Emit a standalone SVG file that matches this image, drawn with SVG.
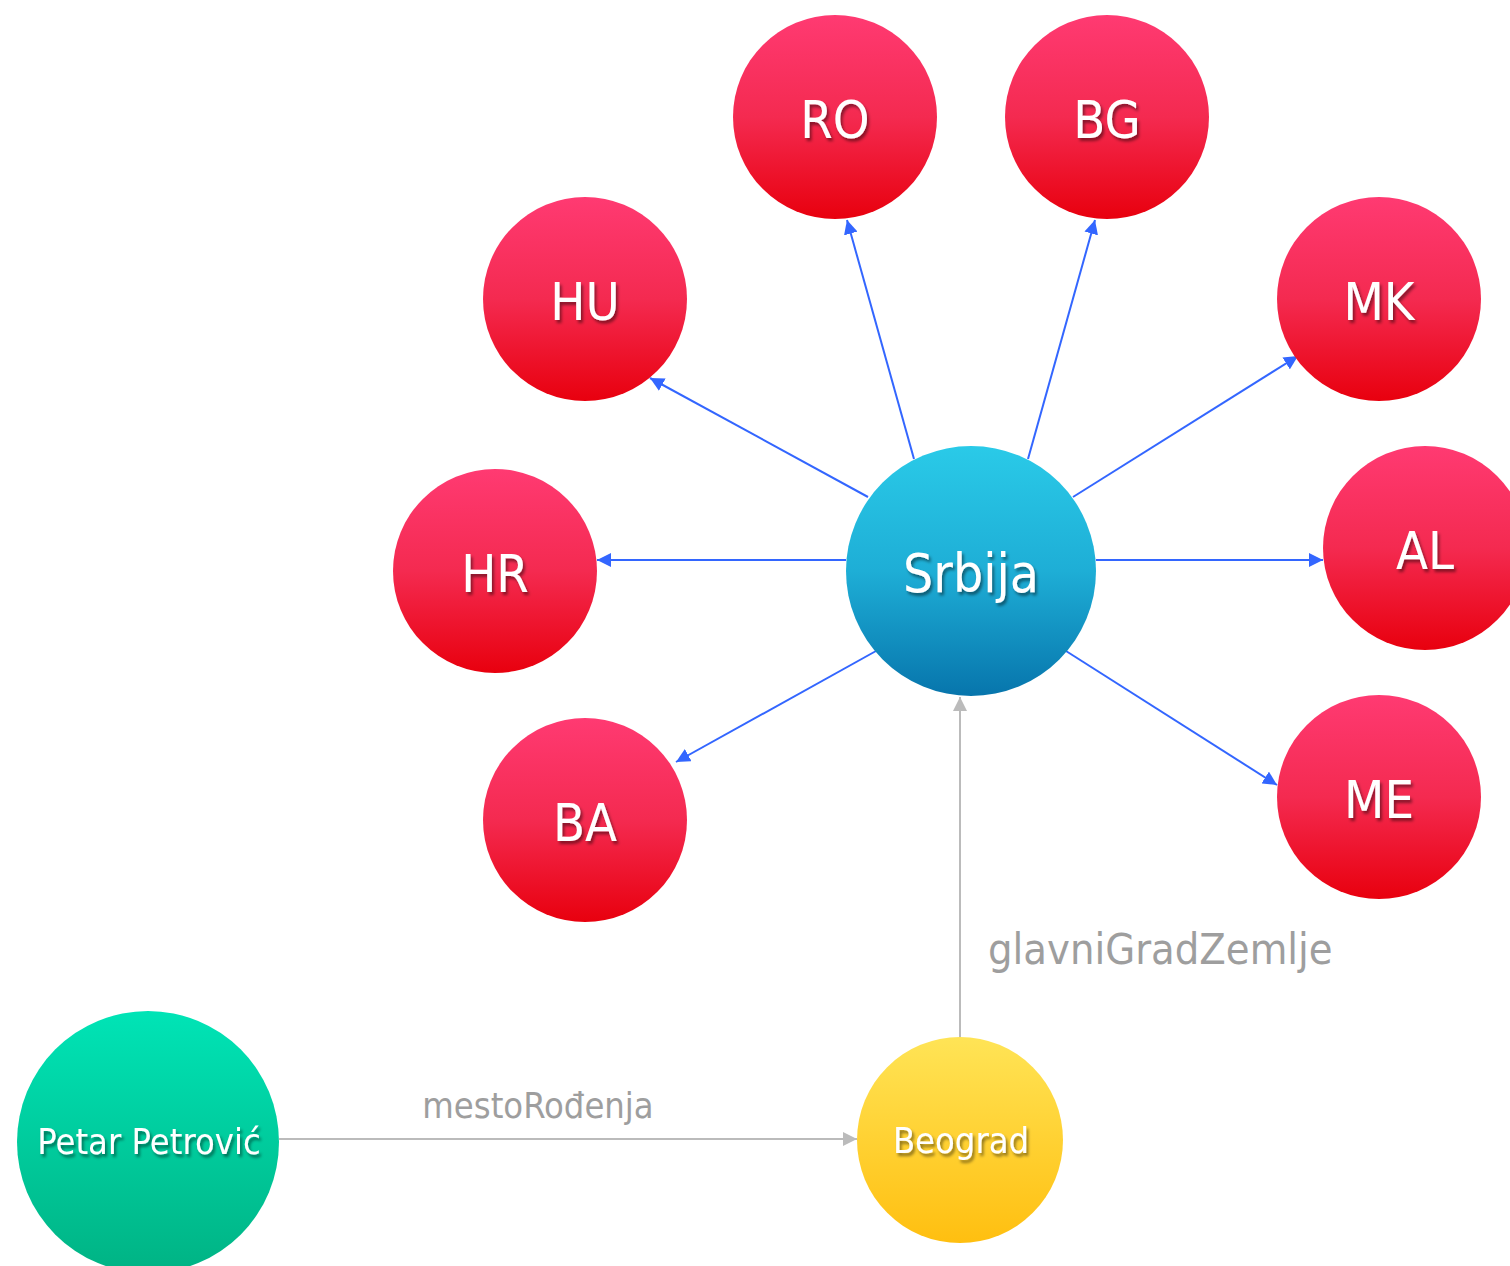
<svg xmlns="http://www.w3.org/2000/svg" width="1510" height="1266" viewBox="0 0 1510 1266">
<style>
.lbl{font-family:"DejaVu Sans Condensed","DejaVu Sans",sans-serif;fill:#ffffff;text-anchor:middle;filter:url(#sh)}
.big{font-size:52px}
.mid{font-size:53px}
.small{font-size:36px}
.edge{stroke:#3366ff;stroke-width:2;fill:none;marker-end:url(#ab)}
.gedge{stroke:#bbbbbb;stroke-width:2;fill:none;marker-end:url(#ag)}
.elbl{font-family:"DejaVu Sans Condensed","DejaVu Sans",sans-serif;fill:#9e9e9e}
</style>
<defs>
<linearGradient id="gr" x1="0" y1="0" x2="0" y2="1"><stop offset="0" stop-color="#ff3a72"/><stop offset="0.5" stop-color="#f42a50"/><stop offset="1" stop-color="#e8000e"/></linearGradient>
<linearGradient id="gb" x1="0" y1="0" x2="0" y2="1"><stop offset="0" stop-color="#2acae8"/><stop offset="0.5" stop-color="#1eaed6"/><stop offset="1" stop-color="#0775ac"/></linearGradient>
<linearGradient id="gg" x1="0" y1="0" x2="0" y2="1"><stop offset="0" stop-color="#00e4b6"/><stop offset="1" stop-color="#00b384"/></linearGradient>
<linearGradient id="gy" x1="0" y1="0" x2="0" y2="1"><stop offset="0" stop-color="#ffe456"/><stop offset="1" stop-color="#ffbf10"/></linearGradient>
<filter id="sh" x="-20%" y="-20%" width="140%" height="160%"><feDropShadow dx="2" dy="3" stdDeviation="1.5" flood-color="#000" flood-opacity="0.45"/></filter>
<marker id="ab" viewBox="0 0 10 10" refX="10" refY="5" markerWidth="14" markerHeight="14" markerUnits="userSpaceOnUse" orient="auto"><path d="M0,0 L10,5 L0,10 z" fill="#3366ff"/></marker>
<marker id="ag" viewBox="0 0 10 10" refX="10" refY="5" markerWidth="14" markerHeight="14" markerUnits="userSpaceOnUse" orient="auto"><path d="M0,0 L10,5 L0,10 z" fill="#bbbbbb"/></marker>
</defs>
<g id="connectors">
<line class="edge" x1="846" y1="560" x2="597" y2="560"/>
<line class="edge" x1="1096" y1="560" x2="1323" y2="560"/>
<line class="edge" x1="868" y1="497" x2="650" y2="378"/>
<line class="edge" x1="914" y1="459" x2="847" y2="220"/>
<line class="edge" x1="1028" y1="459" x2="1095" y2="220"/>
<line class="edge" x1="1073" y1="497" x2="1298" y2="356"/>
<line class="edge" x1="876" y1="651" x2="676" y2="762"/>
<line class="edge" x1="1066" y1="651" x2="1277" y2="785"/>
<line class="gedge" x1="960" y1="1037" x2="960" y2="697"/>
<line class="gedge" x1="279" y1="1139" x2="857" y2="1139"/>
<text class="elbl" x="988" y="964" font-size="43">glavniGradZemlje</text>
<text class="elbl" x="538" y="1118" font-size="36" text-anchor="middle">mestoRođenja</text>
</g>
<g id="RO"><circle cx="835" cy="117" r="102" fill="url(#gr)"/><text class="lbl big" x="835" y="138">RO</text></g>
<g id="BG"><circle cx="1107" cy="117" r="102" fill="url(#gr)"/><text class="lbl big" x="1107" y="138">BG</text></g>
<g id="HU"><circle cx="585" cy="299" r="102" fill="url(#gr)"/><text class="lbl big" x="585" y="320">HU</text></g>
<g id="MK"><circle cx="1379" cy="299" r="102" fill="url(#gr)"/><text class="lbl big" x="1379" y="320">MK</text></g>
<g id="HR"><circle cx="495" cy="571" r="102" fill="url(#gr)"/><text class="lbl big" x="495" y="592">HR</text></g>
<g id="AL"><circle cx="1425" cy="548" r="102" fill="url(#gr)"/><text class="lbl big" x="1425" y="569">AL</text></g>
<g id="BA"><circle cx="585" cy="820" r="102" fill="url(#gr)"/><text class="lbl big" x="585" y="841">BA</text></g>
<g id="ME"><circle cx="1379" cy="797" r="102" fill="url(#gr)"/><text class="lbl big" x="1379" y="818">ME</text></g>
<g id="Srbija"><circle cx="971" cy="571" r="125" fill="url(#gb)"/><text class="lbl mid" x="971" y="592">Srbija</text></g>
<g id="PetarPetrovic"><circle cx="148" cy="1142" r="131" fill="url(#gg)"/><text class="lbl small" x="149" y="1154">Petar Petrović</text></g>
<g id="Beograd"><circle cx="960" cy="1140" r="103" fill="url(#gy)"/><text class="lbl small" x="961" y="1153">Beograd</text></g>
</svg>
